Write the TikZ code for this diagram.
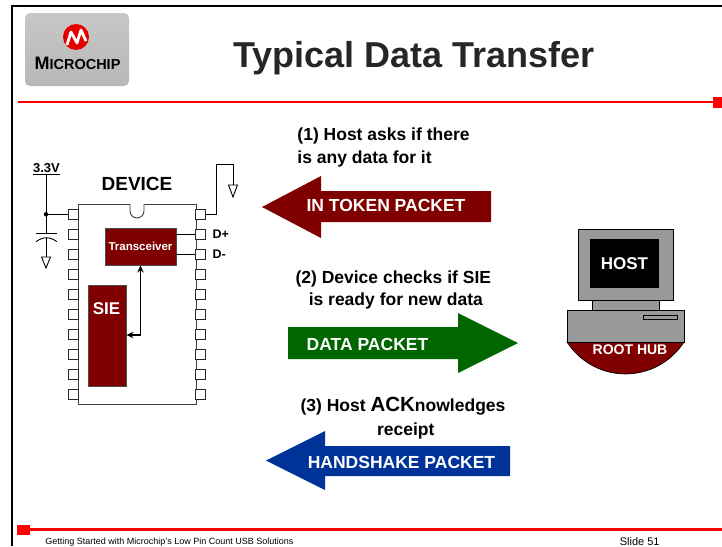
\documentclass[tikz,border=0pt]{standalone}
\usepackage{fontspec}
\setmainfont{Liberation Sans}
\usepackage{xcolor}
\usepackage{tikz}
\usetikzlibrary{arrows.meta, positioning, calc}

\definecolor{mchpred}{HTML}{800000}
\definecolor{pktgreen}{HTML}{006600}
\definecolor{pktblue}{HTML}{003399}
\definecolor{hostgray}{HTML}{999999}

\begin{document}
\begin{tikzpicture}[
	x=1pt, y=-1pt,
	line width=0.9pt,
	>=Stealth,
	chippin/.style={rectangle, draw=black!85, fill=white, minimum width=9.5pt, minimum height=9.5pt, inner sep=0pt},
	block/.style={rectangle, draw=black!70, fill=mchpred, text=white, inner sep=0pt},
	steptext/.style={font=\bfseries\fontsize{17.5}{21}\selectfont, inner sep=0pt},
	pkttext/.style={text=white, font=\bfseries\fontsize{17.5}{21}\selectfont, inner sep=0pt},
	hostbox/.style={draw=black, fill=hostgray, line width=0.7pt},
	redrule/.style={red, line width=2.4pt}
	]
	
	\useasboundingbox (0,0) rectangle (722,546);
	
	% Slide frame and rules
	\draw[line width=2pt] (12,546) -- (12,6) -- (722,6);
	\draw[redrule] (18,102) -- (713,102);
	\fill[red] (713,97) rectangle (725,108);
	\draw[redrule] (30,529.5) -- (722,529.5);
	\fill[red] (17,524.5) rectangle (30,534.5);
	
	% Logo
	\shade[top color=black!22, middle color=white, bottom color=black!28, rounded corners=5pt] (25,13) rectangle (129,86);
	\fill[red!90!black] (76,37) circle (13);
	\draw[white, line width=2.8pt, line join=round] (67,45) -- (71,32) -- (77,43) -- (81,30) -- (86,41);
	\node[font=\bfseries, inner sep=0pt] (logo) at (77.5,63) {\fontsize{18}{18}\selectfont M\fontsize{14.5}{18}\selectfont ICROCHIP};
	
	% Title
	\node[font=\bfseries\fontsize{36}{40}\selectfont, text=black!85, anchor=base, inner sep=0pt] (title) at (414,67) {Typical Data Transfer};
	
	% Footer
	\node[font=\fontsize{9}{10}\selectfont, anchor=base west, inner sep=0pt] (foot) at (45,544) {Getting Started with Microchip's Low Pin Count USB Solutions};
	\node[font=\fontsize{11}{12}\selectfont, anchor=base east, inner sep=0pt] (slide) at (660,545) {Slide 51};
	
	% Device chip
	\node[draw=black!75, fill=white, minimum width=118pt, minimum height=200pt, inner sep=0pt] (chip) at (137,304) {};
	\draw[black!75, fill=white] (130,204) -- (130,211) arc[start angle=180, end angle=0, radius=7] -- (144,204);
	\foreach \i in {1,...,10} {
		\node[chippin] (L\i) at (73.5,{194.3+20*\i}) {};
		\node[chippin] (R\i) at (200.5,{194.3+20*\i}) {};
	}
	\node[font=\bfseries\fontsize{19}{20}\selectfont, inner sep=0pt, above=12pt of chip] (devlbl) {DEVICE};
	
	% Transceiver and SIE
	\node[block, minimum width=71pt, minimum height=37pt, font=\bfseries\fontsize{11.5}{12}\selectfont] (trx) at (140.5,246.5) {Transceiver};
	\node[block, minimum width=38pt, minimum height=101pt] (sie) at (107,335.5) {};
	\node[text=white, font=\bfseries\fontsize{17}{18}\selectfont, anchor=base, inner sep=0pt] (sielbl) at (106.5,314) {SIE};
	\draw[{Stealth[length=7pt,width=6.5pt]}-{Stealth[length=7pt,width=6.5pt]}, line width=1.3pt] (trx.south) |- (sie.east |- 0,335);
	
	% D+ / D- lines
	\draw (trx.east |- R2) -- (R2.west);
	\draw (trx.east |- R3) -- (R3.west);
	\node[font=\bfseries\fontsize{12.5}{13}\selectfont, inner sep=0pt, right=6.5pt of R2] (dp) {D+};
	\node[font=\bfseries\fontsize{12.5}{13}\selectfont, inner sep=0pt, right=6.5pt of R3] (dm) {D-};
	
	% Supply, decoupling cap and grounds
	\node[font=\bfseries\fontsize{13}{14}\selectfont, anchor=base, inner sep=0pt] (vcc) at (46.5,172.5) {\underline{3.3V}};
	\coordinate (capT) at (46,233);
	\coordinate (capB) at (46,238);
	\draw (46,175) -- (capT);
	\fill (46,214.3) circle (2.2);
	\draw (46,214.3) -- (L1.west);
	\draw (36,233) -- (57,233);
	\draw (36,241.7) .. controls (43,236.5) and (50,236.5) .. (57,241.7);
	\draw (capB) -- (46,257);
	\draw[fill=white] (41.5,257) -- (50.5,257) -- (46,268) -- cycle;
	\draw (R1.east) -- (216,214.3) -- (216,164) -- (233,164) -- (233,185);
	\draw[fill=white] (228.5,185) -- (237.5,185) -- (233,197) -- cycle;
	
	% (1) IN token
	\node[steptext, anchor=base west] (q1a) at (297,140.7) {(1) Host asks if there};
	\node[steptext, anchor=base west] (q1b) at (297,163.5) {is any data for it};
	\fill[mchpred] (491,191) -- (321,191) -- (321,176) -- (262,207) -- (321,238) -- (321,222) -- (491,222) -- cycle;
	\node[pkttext, anchor=base] (intok) at (386,211.7) {IN TOKEN PACKET};
	
	% (2) DATA
	\node[steptext, anchor=base] (q2a) at (393.3,283.3) {(2) Device checks if SIE};
	\node[steptext, anchor=base] (q2b) at (395.8,305) {is ready for new data};
	\fill[pktgreen] (288,327) -- (458,327) -- (458,313) -- (518,343) -- (458,373) -- (458,359) -- (288,359) -- cycle;
	\node[pkttext, anchor=base] (data) at (367.5,350) {DATA PACKET};
	
	% (3) HANDSHAKE
	\node[steptext, anchor=base] (q3a) at (403,411.7) {(3) Host {\fontsize{20.5}{22}\selectfont ACK}nowledges};
	\node[steptext, anchor=base] (q3b) at (405.8,435) {receipt};
	\fill[pktblue] (510,446) -- (325,446) -- (325,431) -- (266,460.5) -- (325,490) -- (325,476) -- (510,476) -- cycle;
	\node[pkttext, anchor=base] (hshk) at (401.5,468) {HANDSHAKE PACKET};
	
	% Host PC
	\draw[fill=mchpred, draw=black, line width=0.7pt] (684,342) arc[start angle=32.7, end angle=147.3, radius=69.5] -- cycle;
	\node[text=white, font=\bfseries\fontsize{14}{15}\selectfont, anchor=base, inner sep=0pt] (hub) at (630,354) {ROOT HUB};
	\draw[hostbox] (578,229) rectangle (673,300);
	\node[fill=black, minimum width=69pt, minimum height=49pt, inner sep=0pt, text=white, font=\bfseries\fontsize{17}{18}\selectfont] (screen) at (624.5,263.5) {HOST};
	\draw[hostbox] (592,300) rectangle (659,310);
	\draw[hostbox] (567,310) rectangle (684,342);
	\draw[hostbox] (643,315) rectangle (677,319);
	
\end{tikzpicture}
\end{document}
